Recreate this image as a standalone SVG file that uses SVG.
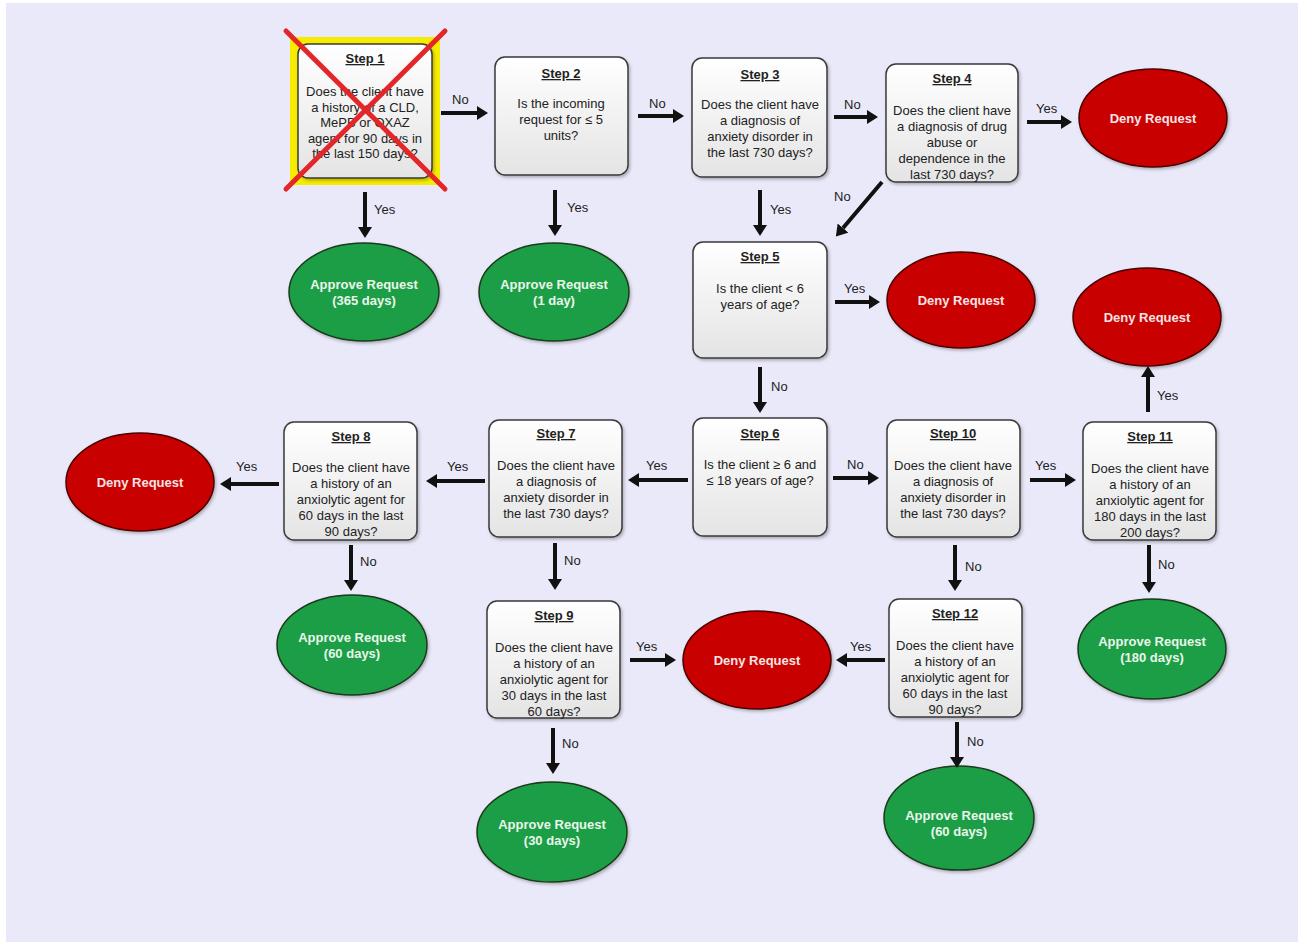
<svg xmlns="http://www.w3.org/2000/svg" width="1302" height="945" viewBox="0 0 1302 945">
<defs>
<linearGradient id="boxg" x1="0" y1="0" x2="0" y2="1"><stop offset="0" stop-color="#ffffff"/><stop offset="1" stop-color="#e4e4e4"/></linearGradient>
<marker id="ah" markerUnits="userSpaceOnUse" markerWidth="12" markerHeight="14" refX="0" refY="7" orient="auto"><path d="M0,0 L11,7 L0,14 z" fill="#111"/></marker>
<filter id="sh" x="-10%" y="-10%" width="130%" height="130%"><feDropShadow dx="1.5" dy="2" stdDeviation="1.5" flood-color="#000" flood-opacity="0.25"/></filter>
</defs>
<style>
.box{fill:url(#boxg);stroke:#3a3a3a;stroke-width:1.5;filter:url(#sh)}
.t{font-family:"Liberation Sans",Arial,sans-serif;font-size:13px;fill:#222;text-anchor:middle}
.h{font-weight:bold;text-decoration:underline}
.deny{fill:#c80000;stroke:#4a0000;stroke-width:1.5;filter:url(#sh)}
.ok{fill:#1f9e47;stroke:#1a3a1a;stroke-width:1.5;filter:url(#sh)}
.et{font-family:"Liberation Sans",Arial,sans-serif;font-size:13px;font-weight:bold;text-anchor:middle}
.dt{fill:#f6e4e4}
.at{fill:#eaf6ea}
.ar{stroke:#111;stroke-width:4;fill:none;marker-end:url(#ah)}
.lb{font-family:"Liberation Sans",Arial,sans-serif;font-size:13px;fill:#222}
</style>
<rect x="0" y="0" width="1302" height="945" fill="#ffffff"/>
<rect x="6" y="3" width="1292" height="939" fill="#e9e9f9"/>

<g id="step1">
<rect x="290" y="37" width="150" height="148" fill="#f7ec00"/>
<rect class="box" x="298" y="44" width="134" height="134" rx="10"/>
<text class="t h" x="365" y="63">Step 1</text>
<text class="t" x="365" y="96">Does the client have<tspan x="365" dy="15.5">a history of a CLD,</tspan><tspan x="365" dy="15.5">MePB or OXAZ</tspan><tspan x="365" dy="15.5">agent for 90 days in</tspan><tspan x="365" dy="15.5">the last 150 days?</tspan></text>
<path d="M286,31 L445,189 M445,31 L286,189" stroke="#e2262a" stroke-width="5" stroke-linecap="round" fill="none"/>
</g>
<g id="step2">
<rect class="box" x="495" y="57" width="133" height="118" rx="10"/>
<text class="t h" x="561" y="78">Step 2</text>
<text class="t" x="561" y="108">Is the incoming<tspan x="561" dy="16">request for ≤ 5</tspan><tspan x="561" dy="16">units?</tspan></text>
</g>
<g id="step3">
<rect class="box" x="692" y="58" width="135" height="119" rx="10"/>
<text class="t h" x="760" y="79">Step 3</text>
<text class="t" x="760" y="109">Does the client have<tspan x="760" dy="16">a diagnosis of</tspan><tspan x="760" dy="16">anxiety disorder in</tspan><tspan x="760" dy="16">the last 730 days?</tspan></text>
</g>
<g id="step4">
<rect class="box" x="886" y="64" width="132" height="118" rx="10"/>
<text class="t h" x="952" y="83">Step 4</text>
<text class="t" x="952" y="115">Does the client have<tspan x="952" dy="16">a diagnosis of drug</tspan><tspan x="952" dy="16">abuse or</tspan><tspan x="952" dy="16">dependence in the</tspan><tspan x="952" dy="16">last 730 days?</tspan></text>
</g>
<g id="step5">
<rect class="box" x="693" y="242" width="134" height="116" rx="10"/>
<text class="t h" x="760" y="261">Step 5</text>
<text class="t" x="760" y="293">Is the client &lt; 6<tspan x="760" dy="16">years of age?</tspan></text>
</g>
<g id="step6">
<rect class="box" x="693" y="418" width="134" height="118" rx="10"/>
<text class="t h" x="760" y="438">Step 6</text>
<text class="t" x="760" y="469">Is the client ≥ 6 and<tspan x="760" dy="16">≤ 18 years of age?</tspan></text>
</g>
<g id="step7">
<rect class="box" x="489" y="420" width="133" height="117" rx="10"/>
<text class="t h" x="556" y="438">Step 7</text>
<text class="t" x="556" y="470">Does the client have<tspan x="556" dy="16">a diagnosis of</tspan><tspan x="556" dy="16">anxiety disorder in</tspan><tspan x="556" dy="16">the last 730 days?</tspan></text>
</g>
<g id="step8">
<rect class="box" x="284" y="422" width="133" height="118" rx="10"/>
<text class="t h" x="351" y="441">Step 8</text>
<text class="t" x="351" y="472">Does the client have<tspan x="351" dy="16">a history of an</tspan><tspan x="351" dy="16">anxiolytic agent for</tspan><tspan x="351" dy="16">60 days in the last</tspan><tspan x="351" dy="16">90 days?</tspan></text>
</g>
<g id="step9">
<rect class="box" x="487" y="601" width="133" height="117" rx="10"/>
<text class="t h" x="554" y="620">Step 9</text>
<text class="t" x="554" y="652">Does the client have<tspan x="554" dy="16">a history of an</tspan><tspan x="554" dy="16">anxiolytic agent for</tspan><tspan x="554" dy="16">30 days in the last</tspan><tspan x="554" dy="16">60 days?</tspan></text>
</g>
<g id="step10">
<rect class="box" x="887" y="420" width="133" height="117" rx="10"/>
<text class="t h" x="953" y="438">Step 10</text>
<text class="t" x="953" y="470">Does the client have<tspan x="953" dy="16">a diagnosis of</tspan><tspan x="953" dy="16">anxiety disorder in</tspan><tspan x="953" dy="16">the last 730 days?</tspan></text>
</g>
<g id="step11">
<rect class="box" x="1083" y="422" width="133" height="118" rx="10"/>
<text class="t h" x="1150" y="441">Step 11</text>
<text class="t" x="1150" y="473">Does the client have<tspan x="1150" dy="16">a history of an</tspan><tspan x="1150" dy="16">anxiolytic agent for</tspan><tspan x="1150" dy="16">180 days in the last</tspan><tspan x="1150" dy="16">200 days?</tspan></text>
</g>
<g id="step12">
<rect class="box" x="889" y="599" width="133" height="118" rx="10"/>
<text class="t h" x="955" y="618">Step 12</text>
<text class="t" x="955" y="650">Does the client have<tspan x="955" dy="16">a history of an</tspan><tspan x="955" dy="16">anxiolytic agent for</tspan><tspan x="955" dy="16">60 days in the last</tspan><tspan x="955" dy="16">90 days?</tspan></text>
</g>

<g id="deny1"><ellipse class="deny" cx="1153" cy="118" rx="74" ry="49"/><text class="et dt" x="1153" y="123">Deny Request</text></g>
<g id="deny2"><ellipse class="deny" cx="961" cy="300" rx="74" ry="48"/><text class="et dt" x="961" y="305">Deny Request</text></g>
<g id="deny3"><ellipse class="deny" cx="1147" cy="317" rx="74" ry="49"/><text class="et dt" x="1147" y="322">Deny Request</text></g>
<g id="deny4"><ellipse class="deny" cx="140" cy="482" rx="74" ry="49"/><text class="et dt" x="140" y="487">Deny Request</text></g>
<g id="deny5"><ellipse class="deny" cx="757" cy="660" rx="74" ry="49"/><text class="et dt" x="757" y="665">Deny Request</text></g>

<g id="approve365"><ellipse class="ok" cx="364" cy="292" rx="75" ry="49"/><text class="et at" x="364" y="289">Approve Request<tspan x="364" dy="16">(365 days)</tspan></text></g>
<g id="approve1"><ellipse class="ok" cx="554" cy="292" rx="75" ry="49"/><text class="et at" x="554" y="289">Approve Request<tspan x="554" dy="16">(1 day)</tspan></text></g>
<g id="approve60a"><ellipse class="ok" cx="352" cy="645" rx="75" ry="50"/><text class="et at" x="352" y="642">Approve Request<tspan x="352" dy="16">(60 days)</tspan></text></g>
<g id="approve30"><ellipse class="ok" cx="552" cy="832" rx="75" ry="50"/><text class="et at" x="552" y="829">Approve Request<tspan x="552" dy="16">(30 days)</tspan></text></g>
<g id="approve60b"><ellipse class="ok" cx="959" cy="818" rx="75" ry="52"/><text class="et at" x="959" y="820">Approve Request<tspan x="959" dy="16">(60 days)</tspan></text></g>
<g id="approve180"><ellipse class="ok" cx="1152" cy="649" rx="74" ry="50"/><text class="et at" x="1152" y="646">Approve Request<tspan x="1152" dy="16">(180 days)</tspan></text></g>

<g id="connectors">
<path class="ar" d="M441,113 L477,113"/><text class="lb" x="452" y="104">No</text>
<path class="ar" d="M638,116 L673,116"/><text class="lb" x="649" y="108">No</text>
<path class="ar" d="M834,117 L867,117"/><text class="lb" x="844" y="109">No</text>
<path class="ar" d="M1027,122 L1061,122"/><text class="lb" x="1036" y="113">Yes</text>
<path class="ar" d="M365,192 L365,227"/><text class="lb" x="374" y="214">Yes</text>
<path class="ar" d="M555,190 L555,225"/><text class="lb" x="567" y="212">Yes</text>
<path class="ar" d="M760,190 L760,225"/><text class="lb" x="770" y="214">Yes</text>
<path class="ar" d="M882,182 L843,228"/><text class="lb" x="834" y="201">No</text>
<path class="ar" d="M835,302 L869,302"/><text class="lb" x="844" y="293">Yes</text>
<path class="ar" d="M760,367 L760,402"/><text class="lb" x="771" y="391">No</text>
<path class="ar" d="M833,478 L868,478"/><text class="lb" x="847" y="469">No</text>
<path class="ar" d="M688,480 L639,480"/><text class="lb" x="646" y="470">Yes</text>
<path class="ar" d="M1030,480 L1065,480"/><text class="lb" x="1035" y="470">Yes</text>
<path class="ar" d="M1148,412 L1148,377"/><text class="lb" x="1157" y="400">Yes</text>
<path class="ar" d="M1149,545 L1149,582"/><text class="lb" x="1158" y="569">No</text>
<path class="ar" d="M955,545 L955,580"/><text class="lb" x="965" y="571">No</text>
<path class="ar" d="M885,660 L847,660"/><text class="lb" x="850" y="651">Yes</text>
<path class="ar" d="M957,722 L957,757"/><text class="lb" x="967" y="746">No</text>
<path class="ar" d="M485,481 L437,481"/><text class="lb" x="447" y="471">Yes</text>
<path class="ar" d="M279,484 L231,484"/><text class="lb" x="236" y="471">Yes</text>
<path class="ar" d="M351,545 L351,580"/><text class="lb" x="360" y="566">No</text>
<path class="ar" d="M555,543 L555,579"/><text class="lb" x="564" y="565">No</text>
<path class="ar" d="M630,660 L665,660"/><text class="lb" x="636" y="651">Yes</text>
<path class="ar" d="M553,728 L553,763"/><text class="lb" x="562" y="748">No</text>
</g>
</svg>
